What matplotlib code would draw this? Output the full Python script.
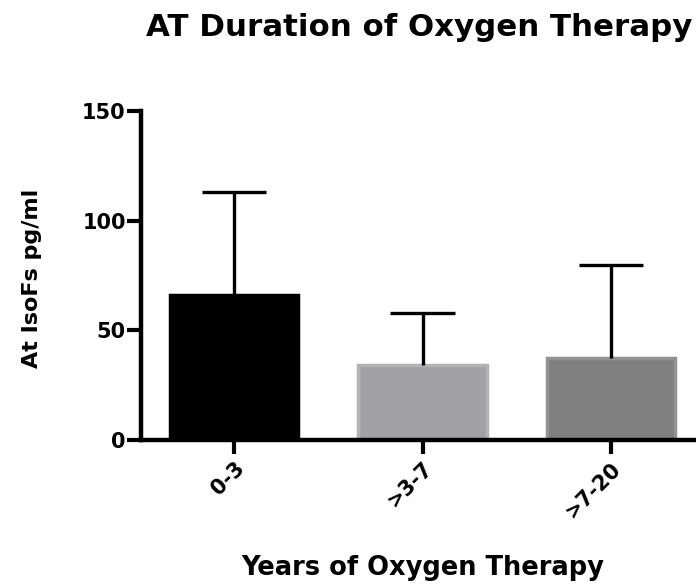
import matplotlib
matplotlib.use("Agg")
import matplotlib.pyplot as plt

categories = ["0-3", ">3-7", ">7-20"]
means = [66.0, 34.0, 37.3]
errors = [47.0, 23.8, 42.5]
fill_colors = ["#000000", "#a1a0a4", "#808080"]
edge_colors = ["#000000", "#b3b3b5", "#929292"]
yticks = [0, 50, 100, 150]

plt.rcParams['font.family'] = ['DejaVu Sans']
plt.rcParams['font.weight'] = 'bold'

W, H = 696, 587
fig = plt.figure(figsize=(W/100, H/100), dpi=100)
ax = fig.add_axes([141/W, (H-440)/H, (W-141)/W, 329/H])

x = list(range(len(categories)))
cap_half = 0.17
for i in x:
    ax.bar(i, means[i], width=0.68, color=fill_colors[i], edgecolor=edge_colors[i],
           linewidth=2.5, zorder=2)
    top = means[i] + errors[i]
    ax.vlines(i, means[i], top, colors='black', linewidth=2.4, zorder=3)
    ax.hlines(top, i - cap_half, i + cap_half, colors='black', linewidth=2.4, zorder=3)

ax.set_xlim(-0.493, 2.45)
ax.set_ylim(0, 150)
ax.set_yticks(yticks)
ax.set_xticks(x)
ax.set_xticklabels(categories, rotation=45, ha='right', va='top', rotation_mode='anchor')
for s in ['top', 'right']:
    ax.spines[s].set_visible(False)
for s in ['left', 'bottom']:
    ax.spines[s].set_linewidth(3.2)
ax.spines['bottom'].set_zorder(4)
ax.tick_params(axis='both', width=3, length=10, labelsize=15, pad=1)
ax.tick_params(axis='x', pad=3)
for lab in ax.get_yticklabels() + ax.get_xticklabels():
    lab.set_fontweight('bold')

fig.text(146/W, 1-28/H, "AT Duration of Oxygen Therapy", fontsize=22.2, fontweight='bold',
         ha='left', va='center')
fig.text(32/W, 1-278/H, "At IsoFs pg/ml", fontsize=16, fontweight='bold',
         rotation=90, ha='center', va='center')
fig.text(423/W, 1-568/H, "Years of Oxygen Therapy", fontsize=18.5, fontweight='bold',
         ha='center', va='center')

fig.savefig("out.png", dpi=100)
